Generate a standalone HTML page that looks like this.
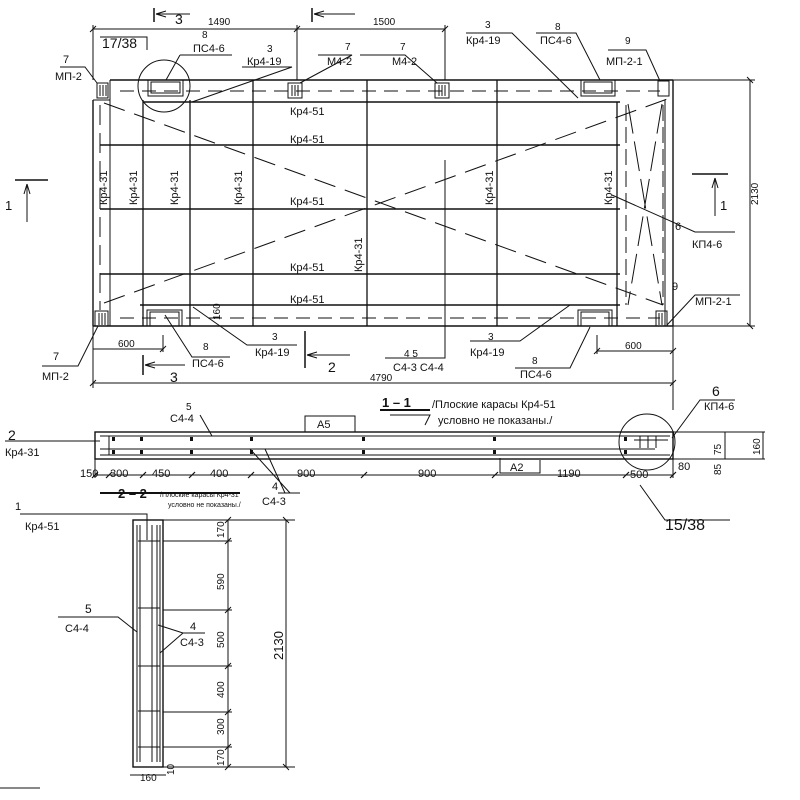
<!DOCTYPE html>
<html><head><meta charset="utf-8"><style>
html,body{margin:0;padding:0;background:#fff;width:800px;height:800px;overflow:hidden}
svg{display:block}
text{font-family:"Liberation Sans","DejaVu Sans",sans-serif;fill:#111}
</style></head><body>
<svg width="800" height="800" viewBox="0 0 800 800" xmlns="http://www.w3.org/2000/svg">
<g stroke="#111" fill="none" stroke-width="1">
<line x1="110" y1="80" x2="673" y2="80" stroke-width="1.4"/>
<line x1="93" y1="100" x2="93" y2="326" stroke-width="1.4"/>
<line x1="93" y1="326" x2="673" y2="326" stroke-width="1.4"/>
<line x1="673" y1="80" x2="673" y2="326" stroke-width="1.4"/>
<line x1="93" y1="100" x2="110" y2="100"/>
<line x1="110" y1="80" x2="110" y2="326"/>
<line x1="120" y1="91" x2="660" y2="91" stroke-dasharray="14,8"/>
<line x1="120" y1="318" x2="660" y2="318" stroke-dasharray="14,8"/>
<line x1="100" y1="105" x2="100" y2="310" stroke-dasharray="20,8"/>
<line x1="143" y1="102" x2="620" y2="102" stroke-width="1.4"/>
<line x1="100" y1="145" x2="620" y2="145" stroke-width="1.4"/>
<line x1="100" y1="209" x2="620" y2="209" stroke-width="1.4"/>
<line x1="100" y1="274" x2="620" y2="274" stroke-width="1.4"/>
<line x1="140" y1="305" x2="620" y2="305" stroke-width="1.4"/>
<line x1="143" y1="100" x2="143" y2="326" stroke-width="1.3"/>
<line x1="190" y1="100" x2="190" y2="326" stroke-width="1.3"/>
<line x1="253" y1="80" x2="253" y2="326" stroke-width="1.3"/>
<line x1="367" y1="80" x2="367" y2="326" stroke-width="1.3"/>
<line x1="497" y1="80" x2="497" y2="326" stroke-width="1.3"/>
<line x1="617" y1="102" x2="617" y2="326" stroke-width="1.3"/>
<line x1="626" y1="105" x2="626" y2="305" stroke-dasharray="16,6"/>
<line x1="663" y1="105" x2="663" y2="305" stroke-dasharray="16,6"/>
<line x1="665" y1="100" x2="665" y2="326"/>
<line x1="104" y1="103" x2="663" y2="305" stroke-dasharray="22,10"/>
<line x1="104" y1="303" x2="670" y2="98" stroke-dasharray="22,10"/>
<line x1="628" y1="104" x2="662" y2="305" stroke-dasharray="30,8"/>
<line x1="662" y1="104" x2="628" y2="305" stroke-dasharray="30,8"/>
<rect x="97" y="83" width="11" height="15"/><line x1="100" y1="85" x2="100" y2="96"/><line x1="103" y1="85" x2="103" y2="96"/><line x1="106" y1="85" x2="106" y2="96"/>
<rect x="288" y="83" width="14" height="15"/><line x1="292" y1="85" x2="292" y2="96"/><line x1="295" y1="85" x2="295" y2="96"/><line x1="298" y1="85" x2="298" y2="96"/>
<rect x="435" y="83" width="14" height="15"/><line x1="439" y1="85" x2="439" y2="96"/><line x1="442" y1="85" x2="442" y2="96"/><line x1="445" y1="85" x2="445" y2="96"/>
<rect x="148" y="80" width="35" height="16"/><rect x="151" y="82" width="29" height="11"/>
<rect x="581" y="80" width="34" height="16"/><rect x="584" y="82" width="28" height="11"/>
<rect x="658" y="81" width="11" height="15"/>
<rect x="95" y="311" width="13" height="15"/><line x1="99" y1="313" x2="99" y2="325"/><line x1="102" y1="313" x2="102" y2="325"/><line x1="105" y1="313" x2="105" y2="325"/>
<rect x="147" y="310" width="35" height="16"/><rect x="150" y="312" width="29" height="14"/>
<rect x="578" y="310" width="34" height="16"/><rect x="581" y="312" width="28" height="14"/>
<rect x="656" y="311" width="11" height="15"/><line x1="659" y1="313" x2="659" y2="325"/><line x1="662" y1="313" x2="662" y2="325"/>
<circle cx="164" cy="86" r="26"/>
<line x1="93" y1="29" x2="297" y2="29"/><line x1="297" y1="29" x2="445" y2="29"/>
<line x1="93" y1="25" x2="93" y2="80"/><line x1="297" y1="25" x2="297" y2="80"/><line x1="445" y1="25" x2="445" y2="80"/>
<line x1="90" y1="32" x2="96" y2="26"/><line x1="294" y1="32" x2="300" y2="26"/><line x1="442" y1="32" x2="448" y2="26"/>
<line x1="154" y1="8" x2="154" y2="22" stroke-width="1.5"/><path d="M156 14 H190 M156 14 l10 -3 M156 14 l10 3"/>
<line x1="312" y1="8" x2="312" y2="22" stroke-width="1.5"/><path d="M314 14 H355 M314 14 l10 -3 M314 14 l10 3"/>
<line x1="750" y1="80" x2="750" y2="326"/>
<line x1="747" y1="77" x2="753" y2="83"/><line x1="747" y1="323" x2="753" y2="329"/>
<line x1="673" y1="80" x2="755" y2="80"/><line x1="673" y1="326" x2="755" y2="326"/>
<line x1="15" y1="180" x2="48" y2="180" stroke-width="1.5"/><path d="M27 222 V184 M27 184 l-3 10 M27 184 l3 10"/>
<line x1="692" y1="174" x2="728" y2="174" stroke-width="1.5"/><path d="M715 216 V178 M715 178 l-3 10 M715 178 l3 10"/>
<line x1="143" y1="355" x2="143" y2="375" stroke-width="1.5"/><path d="M145 365 H185 M145 365 l10 -3 M145 365 l10 3"/>
<line x1="305" y1="331" x2="305" y2="368" stroke-width="1.5"/><path d="M307 355 H350 M307 355 l10 -3 M307 355 l10 3"/>
<line x1="93" y1="349" x2="163" y2="349"/><line x1="163" y1="335" x2="163" y2="352"/>
<line x1="597" y1="351" x2="673" y2="351"/><line x1="597" y1="335" x2="597" y2="354"/>
<line x1="93" y1="383" x2="673" y2="383"/>
<line x1="93" y1="326" x2="93" y2="388"/><line x1="673" y1="326" x2="673" y2="410"/>
<line x1="90" y1="386" x2="96" y2="380"/><line x1="670" y1="386" x2="676" y2="380"/><line x1="160" y1="352" x2="166" y2="346"/><line x1="594" y1="354" x2="600" y2="348"/><line x1="670" y1="354" x2="676" y2="348"/>
<path d="M60 67 H85 L97 83"/><path d="M180 55 H232 M180 55 L166 80"/>
<path d="M147 50 V37 H100"/>
<path d="M242 67 H292 L192 102"/>
<path d="M318 55 H352 L300 83"/><path d="M360 55 H405 L437 83"/>
<path d="M466 33 H512 L578 98"/>
<path d="M536 33 H576 L600 80"/>
<path d="M608 50 H646 L660 81"/>
<path d="M612 195 L695 232 H735"/>
<path d="M667 325 L695 295 H740"/>
<path d="M98 326 L78 366 H42"/>
<path d="M165 315 L192 357 H230"/>
<path d="M193 307 L247 345 H297"/>
<path d="M590 327 L570 368 H515"/>
<path d="M570 305 L520 341 H470"/>
<path d="M445 160 V358 H385"/>
<rect x="95" y="432" width="578" height="27" stroke-width="1.4"/>
<line x1="100" y1="436" x2="670" y2="436"/>
<line x1="100" y1="449" x2="655" y2="449"/>
<line x1="100" y1="455" x2="670" y2="455"/>
<line x1="109" y1="436" x2="109" y2="455"/>
<rect x="305" y="416" width="50" height="16"/>
<path d="M500 458 V473 H540 V460"/>
<path d="M5 441 H100"/>
<path d="M200 415 L212 436"/>
<path d="M285 493 L265 449 M290 493 L250 449 M278 493 H300"/>
<path d="M390 415 H430 L425 425"/>
<circle cx="647" cy="442" r="28"/>
<path d="M672 438 L700 400 H735"/>
<path d="M634 440 H668 M640 436 V448 M648 436 V448 M656 436 V448"/>
<path d="M640 485 L665 520 H730"/>
<line x1="673" y1="432" x2="765" y2="432"/><line x1="673" y1="459" x2="765" y2="459"/>
<line x1="763" y1="432" x2="763" y2="459"/><line x1="725" y1="432" x2="725" y2="459"/>
<line x1="95" y1="459" x2="95" y2="478"/><line x1="673" y1="459" x2="673" y2="478"/>
<line x1="95" y1="475" x2="673" y2="475"/>
<g stroke-width="1.2"><line x1="92" y1="478" x2="98" y2="472"/><line x1="106" y1="478" x2="112" y2="472"/><line x1="140" y1="478" x2="146" y2="472"/><line x1="189" y1="478" x2="195" y2="472"/><line x1="248" y1="478" x2="254" y2="472"/><line x1="361" y1="478" x2="367" y2="472"/><line x1="492" y1="478" x2="498" y2="472"/><line x1="623" y1="478" x2="629" y2="472"/><line x1="670" y1="478" x2="676" y2="472"/></g>
<path d="M100 493 H240" stroke-width="2"/>
<path d="M380 410 H430" stroke-width="2"/>
<rect x="133" y="520" width="30" height="247" stroke-width="1.4"/>
<line x1="137" y1="525" x2="137" y2="762"/><line x1="140" y1="525" x2="140" y2="762"/>
<line x1="152" y1="525" x2="152" y2="762"/><line x1="157" y1="525" x2="157" y2="762"/><line x1="160" y1="525" x2="160" y2="762"/>
<line x1="138" y1="541" x2="160" y2="541"/><line x1="138" y1="608" x2="160" y2="608"/><line x1="138" y1="666" x2="160" y2="666"/><line x1="138" y1="711" x2="160" y2="711"/><line x1="138" y1="747" x2="160" y2="747"/>
<line x1="163" y1="520" x2="295" y2="520"/><line x1="163" y1="541" x2="232" y2="541"/><line x1="163" y1="610" x2="232" y2="610"/><line x1="163" y1="666" x2="232" y2="666"/><line x1="163" y1="712" x2="232" y2="712"/><line x1="163" y1="747" x2="232" y2="747"/><line x1="163" y1="767" x2="295" y2="767"/>
<line x1="228" y1="520" x2="228" y2="767"/><line x1="286" y1="520" x2="286" y2="767"/>
<line x1="225" y1="523" x2="231" y2="517"/><line x1="225" y1="544" x2="231" y2="538"/><line x1="225" y1="613" x2="231" y2="607"/><line x1="225" y1="669" x2="231" y2="663"/><line x1="225" y1="715" x2="231" y2="709"/><line x1="225" y1="750" x2="231" y2="744"/><line x1="225" y1="770" x2="231" y2="764"/>
<line x1="283" y1="517" x2="289" y2="523"/><line x1="283" y1="764" x2="289" y2="770"/>
<line x1="130" y1="775" x2="166" y2="775"/>
<path d="M20 514 H147 V540"/>
<path d="M58 617 H118 L137 632"/>
<path d="M158 625 L183 633 M160 653 L183 633 H205"/>
<path d="M0 788 H40"/>
</g>
<g fill="#111">
<rect x="112" y="437" width="3" height="4"/><rect x="112" y="450" width="3" height="4"/><rect x="140" y="437" width="3" height="4"/><rect x="140" y="450" width="3" height="4"/><rect x="190" y="437" width="3" height="4"/><rect x="190" y="450" width="3" height="4"/><rect x="250" y="437" width="3" height="4"/><rect x="250" y="450" width="3" height="4"/><rect x="362" y="437" width="3" height="4"/><rect x="362" y="450" width="3" height="4"/><rect x="493" y="437" width="3" height="4"/><rect x="493" y="450" width="3" height="4"/><rect x="624" y="437" width="3" height="4"/><rect x="624" y="450" width="3" height="4"/>
</g>
<g font-size="11">
<text x="208" y="25" font-size="10">1490</text><text x="373" y="25" font-size="10">1500</text>
<text x="175" y="24" font-size="14">3</text>
<text x="102" y="48" font-size="14">17/38</text>
<text x="202" y="38" font-size="10">8</text><text x="193" y="52">ПС4-6</text>
<text x="267" y="52" font-size="10">3</text><text x="247" y="65">Кр4-19</text>
<text x="345" y="50" font-size="10">7</text><text x="327" y="65">М4-2</text>
<text x="400" y="50" font-size="10">7</text><text x="392" y="65">М4-2</text>
<text x="485" y="28" font-size="10">3</text><text x="466" y="44">Кр4-19</text>
<text x="555" y="30" font-size="10">8</text><text x="540" y="44">ПС4-6</text>
<text x="625" y="44" font-size="10">9</text><text x="606" y="65">МП-2-1</text>
<text x="63" y="63" font-size="11">7</text><text x="55" y="80">МП-2</text>
<text x="290" y="115">Кр4-51</text><text x="290" y="143">Кр4-51</text><text x="290" y="205">Кр4-51</text><text x="290" y="271">Кр4-51</text><text x="290" y="303">Кр4-51</text>
<text x="5" y="210" font-size="13">1</text><text x="720" y="210" font-size="13">1</text>
<text x="675" y="230" font-size="11">6</text><text x="692" y="248">КП4-6</text>
<text x="672" y="290" font-size="11">9</text><text x="695" y="305">МП-2-1</text>
<text x="53" y="360">7</text><text x="42" y="380">МП-2</text>
<text x="118" y="347" font-size="10">600</text><text x="625" y="349" font-size="10">600</text>
<text x="203" y="350" font-size="10">8</text><text x="192" y="367">ПС4-6</text>
<text x="272" y="340" font-size="10">3</text><text x="255" y="356">Кр4-19</text>
<text x="404" y="357" font-size="10">4 5</text><text x="393" y="371">С4-3 С4-4</text>
<text x="488" y="340" font-size="10">3</text><text x="470" y="356">Кр4-19</text>
<text x="532" y="364" font-size="10">8</text><text x="520" y="378">ПС4-6</text>
<text x="170" y="382" font-size="14">3</text><text x="328" y="372" font-size="14">2</text>
<text x="370" y="381" font-size="10">4790</text>
<text x="712" y="396" font-size="14">6</text><text x="704" y="410">КП4-6</text>
<text x="382" y="407" font-size="13" font-weight="bold">1 – 1</text>
<text x="432" y="408" font-size="11">/Плоские карасы Кр4-51</text>
<text x="438" y="424" font-size="11">условно не показаны./</text>
<text x="186" y="410" font-size="10">5</text><text x="170" y="422">С4-4</text>
<text x="317" y="428">А5</text><text x="510" y="471">А2</text>
<text x="8" y="440" font-size="14">2</text><text x="5" y="456">Кр4-31</text>
<g font-size="11"><text x="80" y="477">150</text><text x="110" y="477">300</text><text x="152" y="477">450</text><text x="210" y="477">400</text><text x="297" y="477">900</text><text x="418" y="477">900</text><text x="557" y="477">1190</text><text x="630" y="478">500</text><text x="678" y="470">80</text></g>
<text x="272" y="490" font-size="11">4</text><text x="262" y="505">С4-3</text>
<text x="665" y="530" font-size="16">15/38</text>
<text x="118" y="498" font-size="13" font-weight="bold">2 – 2</text>
<text x="160" y="497" font-size="7">/Плоские карасы Кр4-31</text>
<text x="168" y="507" font-size="7">условно не показаны./</text>
<text x="15" y="510" font-size="11">1</text><text x="25" y="530">Кр4-51</text>
<text x="85" y="613" font-size="12">5</text><text x="65" y="632">С4-4</text>
<text x="190" y="630" font-size="11">4</text><text x="180" y="646">С4-3</text>
<text x="140" y="781" font-size="10">160</text>
<g font-size="10">
<text transform="translate(224,538) rotate(-90)">170</text>
<text transform="translate(224,590) rotate(-90)">590</text>
<text transform="translate(224,648) rotate(-90)">500</text>
<text transform="translate(224,698) rotate(-90)">400</text>
<text transform="translate(224,735) rotate(-90)">300</text>
<text transform="translate(224,766) rotate(-90)">170</text>
<text transform="translate(174,775) rotate(-90)">10</text>
<text transform="translate(283,660) rotate(-90)" font-size="13">2130</text>
<text transform="translate(758,205) rotate(-90)">2130</text>
<text transform="translate(760,455) rotate(-90)">160</text>
<text transform="translate(721,455) rotate(-90)">75</text>
<text transform="translate(721,475) rotate(-90)">85</text>
<text transform="translate(220,320) rotate(-90)">160</text>
</g>
<g font-size="11">
<text transform="translate(107,205) rotate(-90)">Кр4-31</text>
<text transform="translate(137,205) rotate(-90)">Кр4-31</text>
<text transform="translate(178,205) rotate(-90)">Кр4-31</text>
<text transform="translate(242,205) rotate(-90)">Кр4-31</text>
<text transform="translate(362,272) rotate(-90)">Кр4-31</text>
<text transform="translate(493,205) rotate(-90)">Кр4-31</text>
<text transform="translate(612,205) rotate(-90)">Кр4-31</text>
</g>
</g>
</svg>
</body></html>
